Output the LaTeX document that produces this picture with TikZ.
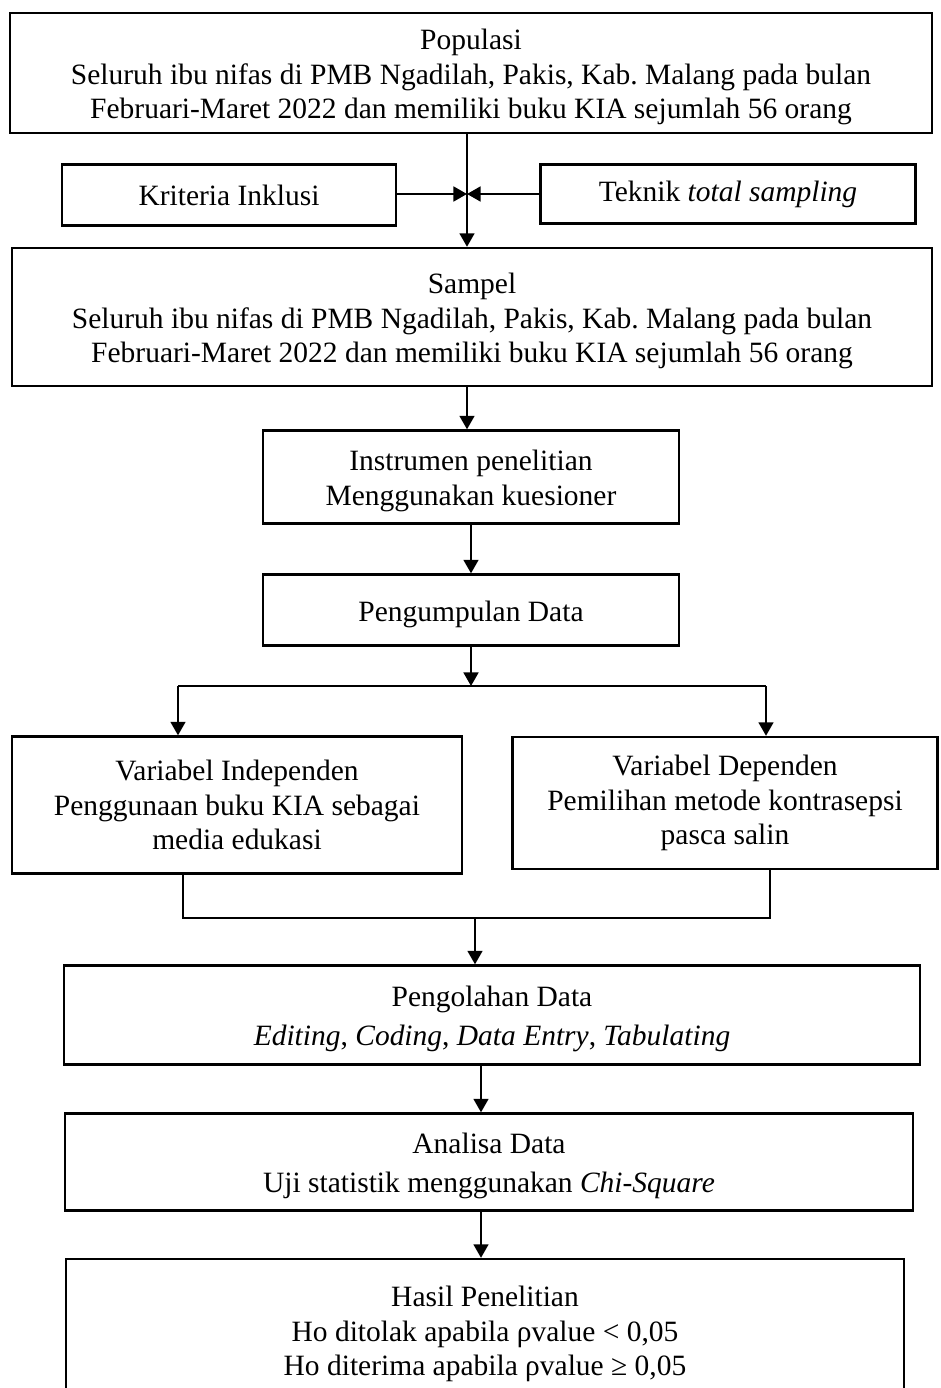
\documentclass[tikz,border=0pt]{standalone}
\usepackage{fontspec}
\setmainfont{Liberation Serif}
\usetikzlibrary{arrows.meta}
\newcommand\px{0.407pt}
\newcommand\tp{\rule{0pt}{11.6pt}}
\frenchspacing

\begin{document}
\begin{tikzpicture}[x=\px,y=-\px,
 box/.style={draw,line width=0.95pt,align=center,inner sep=0pt,font=\fontsize{12}{14}\selectfont},
 dim/.style 2 args={minimum width=#1*\px,minimum height=#2*\px},
 ln/.style={line width=0.95pt},
 arr/.style={line width=0.95pt,-{Triangle[width=6pt,length=5.5pt]}}]
\path[use as bounding box,clip] (0,0) rectangle (940,1388);
% boxes
\node[box,dim={922}{120}] (pop) at (471,73) {\tp Populasi\\Seluruh ibu nifas di PMB Ngadilah, Pakis, Kab. Malang pada bulan\\Februari-Maret 2022 dan memiliki buku KIA sejumlah 56 orang};
\node[box,dim={334}{61}] (kri) at (229,195) {Kriteria Inklusi};
\node[box,dim={375}{59}] (tek) at (728,194) {Teknik \textit{total sampling}};
\node[box,dim={920}{138}] (sam) at (472,317) {\tp Sampel\\Seluruh ibu nifas di PMB Ngadilah, Pakis, Kab. Malang pada bulan\\Februari-Maret 2022 dan memiliki buku KIA sejumlah 56 orang};
\node[box,dim={416}{93}] (ins) at (471,477) {\tp Instrumen penelitian\\Menggunakan kuesioner};
\node[box,dim={416}{71}] (pen) at (471,610) {\tp Pengumpulan Data};
\node[box,dim={450}{137}] (ind) at (237,805) {Variabel Independen\\Penggunaan buku KIA sebagai\\media edukasi};
\node[box,dim={425}{132}] (dep) at (725,803) {Variabel Dependen\\Pemilihan metode kontrasepsi\\pasca salin};
\node[box,dim={856}{99}] (olah) at (492,1015) {\tp Pengolahan Data\\[2pt]\textit{Editing}, \textit{Coding}, \textit{Data Entry}, \textit{Tabulating}};
\node[box,dim={848}{97}] (ana) at (489,1162) {\tp Analisa Data\\[2pt]Uji statistik menggunakan \textit{Chi-Square}};
\node[box,dim={838}{142}] (has) at (485,1330) {\tp Hasil Penelitian\\Ho ditolak apabila ρvalue < 0,05\\Ho diterima apabila ρvalue ≥ 0,05};
% connectors
\coordinate (jn) at (467,194);
\draw[arr] (pop.south -| jn) -- (sam.north -| jn);
\draw[arr] (kri.east |- jn) -- (jn);
\draw[arr] (tek.west |- jn) -- (jn);
\draw[arr] (sam.south -| jn) -- (ins.north -| jn);
\draw[arr] (ins.south) -- (pen.north);
\coordinate (fl) at (178,686);
\coordinate (fr) at (766,686);
\draw[arr] (pen.south) -- (pen.south |- fl);
\draw[ln] (fl) -- (fr);
\draw[arr] (fl) -- (fl |- ind.north);
\draw[arr] (fr) -- (fr |- dep.north);
\coordinate (ml) at (183,918);
\coordinate (mr) at (770,918);
\coordinate (mm) at (475,918);
\draw[ln] (ind.south -| ml) -- (ml) -- (mr) -- (dep.south -| mr);
\draw[arr] (mm) -- (olah.north -| mm);
\coordinate (cx) at (481,0);
\draw[arr] (olah.south -| cx) -- (ana.north -| cx);
\draw[arr] (ana.south -| cx) -- (has.north -| cx);
\end{tikzpicture}
\end{document}
